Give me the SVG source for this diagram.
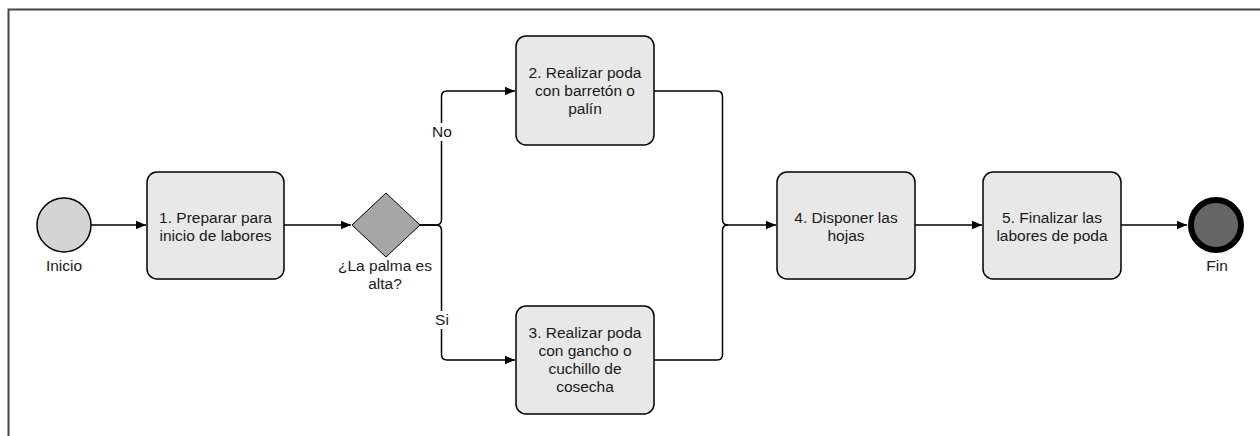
<svg xmlns="http://www.w3.org/2000/svg" width="1260" height="436" viewBox="0 0 1260 436">
<style>
  text { font-family: "Liberation Sans", Arial, sans-serif; font-size: 15.5px; fill: #1a1a1a; text-anchor: middle; }
  .task { fill: #e8e8e8; stroke: #000; stroke-width: 1.5; }
  .conn { fill: none; stroke: #000; stroke-width: 1.5; }
  .lbl { fill: #fff; }
</style>
<defs>
  <marker id="arr" viewBox="0 0 10 10" refX="10" refY="5" markerWidth="10" markerHeight="10" markerUnits="userSpaceOnUse" orient="auto">
    <path d="M0,0.8 L10,5 L0,9.2 Z" fill="#000"/>
  </marker>
</defs>
<rect width="1260" height="436" fill="#fff"/>
<g id="pool">
  <path d="M8.5,436 V9.5 H1260" fill="none" stroke="#444" stroke-width="2"/>
</g>
<g id="connectors">
  <path class="conn" d="M91,225 H146" marker-end="url(#arr)"/>
  <path class="conn" d="M284,225 H351" marker-end="url(#arr)"/>
  <path class="conn" d="M420,225 H436 Q441.5,225 441.5,219.5 V96.5 Q441.5,91 447,91 H515" marker-end="url(#arr)"/>
  <path class="conn" d="M420,225 H436 Q441.5,225 441.5,230.5 V354.5 Q441.5,360 447,360 H515" marker-end="url(#arr)"/>
  <path class="conn" d="M654,91 H717 Q722.5,91 722.5,96.5 V219.5 Q722.5,225 728,225 H776" marker-end="url(#arr)"/>
  <path class="conn" d="M654,360 H717 Q722.5,360 722.5,354.5 V230.5 Q722.5,225 728,225"/>
  <path class="conn" d="M915,225 H982" marker-end="url(#arr)"/>
  <path class="conn" d="M1121,225 H1187" marker-end="url(#arr)"/>
  <rect class="lbl" x="431" y="123" width="22" height="18"/>
  <text x="442" y="137">No</text>
  <rect class="lbl" x="434" y="311" width="16" height="18"/>
  <text x="442" y="325">Si</text>
</g>
<g id="inicio">
  <circle cx="64" cy="225" r="27" fill="#d4d4d4" stroke="#000" stroke-width="1.5"/>
  <text x="64" y="271">Inicio</text>
</g>
<g id="task1">
  <rect class="task" x="147" y="172" width="137" height="107" rx="10"/>
  <text x="215.5" y="222.5">1. Preparar para</text>
  <text x="215.5" y="240.5">inicio de labores</text>
</g>
<g id="gateway">
  <polygon points="386,193 420,225 386,257 352,225" fill="#a6a6a6" stroke="#000" stroke-width="1"/>
  <text x="385" y="271">¿La palma es</text>
  <text x="385" y="289">alta?</text>
</g>
<g id="task2">
  <rect class="task" x="516" y="36" width="138" height="109" rx="10"/>
  <text x="585" y="78">2. Realizar poda</text>
  <text x="585" y="96">con barretón o</text>
  <text x="585" y="114">palín</text>
</g>
<g id="task3">
  <rect class="task" x="516" y="306" width="138" height="108" rx="10"/>
  <text x="585" y="338">3. Realizar poda</text>
  <text x="585" y="356">con gancho o</text>
  <text x="585" y="374">cuchillo de</text>
  <text x="585" y="392">cosecha</text>
</g>
<g id="task4">
  <rect class="task" x="777" y="172" width="138" height="107" rx="10"/>
  <text x="846" y="222.5">4. Disponer las</text>
  <text x="846" y="240.5">hojas</text>
</g>
<g id="task5">
  <rect class="task" x="983" y="172" width="138" height="107" rx="10"/>
  <text x="1052" y="222.5">5. Finalizar las</text>
  <text x="1052" y="240.5">labores de poda</text>
</g>
<g id="fin">
  <circle cx="1216" cy="225" r="25" fill="#666" stroke="#000" stroke-width="6"/>
  <text x="1217" y="271">Fin</text>
</g>
</svg>
